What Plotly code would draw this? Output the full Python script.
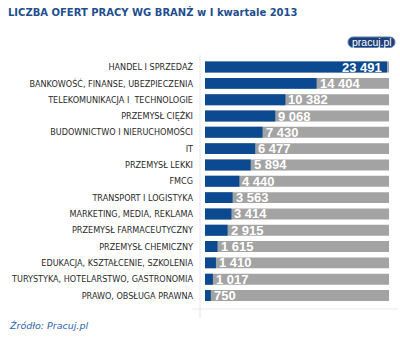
import plotly.graph_objects as go

categories = [
    "HANDEL I SPRZEDAŻ",
    "BANKOWOŚĆ, FINANSE, UBEZPIECZENIA",
    "TELEKOMUNIKACJA I  TECHNOLOGIE",
    "PRZEMYSŁ CIĘŻKI",
    "BUDOWNICTWO I NIERUCHOMOŚCI",
    "IT",
    "PRZEMYSŁ LEKKI",
    "FMCG",
    "TRANSPORT I LOGISTYKA",
    "MARKETING, MEDIA, REKLAMA",
    "PRZEMYSŁ FARMACEUTYCZNY",
    "PRZEMYSŁ CHEMICZNY",
    "EDUKACJA, KSZTAŁCENIE, SZKOLENIA",
    "TURYSTYKA, HOTELARSTWO, GASTRONOMIA",
    "PRAWO, OBSŁUGA PRAWNA",
]
values = [23491, 14404, 10382, 9068, 7430, 6477, 5894, 4440, 3563, 3414, 2915, 1615, 1410, 1017, 750]
value_labels = ["23 491", "14 404", "10 382", "9 068", "7 430", "6 477", "5 894", "4 440",
                "3 563", "3 414", "2 915", "1 615", "1 410", "1 017", "750"]
title_text = "LICZBA OFERT PRACY WG BRANŻ w I kwartale 2013"
source_text = "Źródło: Pracuj.pl"
logo_text = "pracuj.pl"

W, H = 400, 342
BLUE = "#0b4a90"
GRAY = "#a3a3a3"

vmax = max(values)
full = vmax * 184 / 182  # background track slightly longer than max bar

def px(x):
    return x / W

def py(y):
    return 1 - y / H

fig = go.Figure()
fig.add_trace(go.Bar(
    y=categories, x=[full] * len(values), orientation="h",
    marker=dict(color=GRAY, line=dict(width=0)), hoverinfo="skip", showlegend=False,
))
fig.add_trace(go.Bar(
    y=categories, x=values, orientation="h",
    marker=dict(color=BLUE, line=dict(width=0)), showlegend=False,
))

# value labels
for i, (c, v, lab) in enumerate(zip(categories, values, value_labels)):
    if i == 0:
        fig.add_annotation(x=v, y=c, xref="x", yref="y", text=lab, showarrow=False,
                           xanchor="right", xshift=-3, yshift=0,
                           font=dict(family="Liberation Sans", size=13, color="white", weight="bold"))
    else:
        fig.add_annotation(x=v, y=c, xref="x", yref="y", text=lab, showarrow=False,
                           xanchor="left", xshift=1,
                           font=dict(family="Liberation Sans", size=13, color="white", weight="bold"))

top, bottom = 57.55, 305.05
fig.update_layout(
    width=W, height=H, margin=dict(l=0, r=0, t=0, b=0, autoexpand=False),
    paper_bgcolor="white", plot_bgcolor="white",
    barmode="overlay", bargap=0.33,
    xaxis=dict(domain=[px(205), px(389)], range=[0, full], visible=False, fixedrange=True,
               automargin=False),
    yaxis=dict(domain=[py(bottom), py(top)], categoryorder="array", categoryarray=categories,
               autorange="reversed", showgrid=False, zeroline=False, showline=False,
               ticks="", ticklabelstandoff=11, automargin=False,
               tickfont=dict(family="DejaVu Sans Condensed", size=9, color="#2a2a2a")),
)

# light axis lines
fig.add_shape(type="line", xref="paper", yref="paper", x0=px(200), x1=px(200), y0=py(55), y1=py(318),
              line=dict(color="#e2e6ec", width=1))
fig.add_shape(type="line", xref="paper", yref="paper", x0=px(192), x1=px(398), y0=py(309), y1=py(309),
              line=dict(color="#e6e9ee", width=1))

# title
fig.add_annotation(x=px(6), y=py(11), xref="paper", yref="paper", text=title_text, showarrow=False,
                   xanchor="left", yanchor="middle",
                   font=dict(family="DejaVu Sans", size=10, color="#1f4f8f", weight="bold"))
# source
fig.add_annotation(x=px(7), y=py(325), xref="paper", yref="paper", text=source_text, showarrow=False,
                   xanchor="left", yanchor="middle",
                   font=dict(family="DejaVu Sans", size=9.5, color="#2f64ad", style="italic"))

# logo pill
x0, x1, y0, y1 = 348, 395, 37, 47.5
r = (y1 - y0) / 2
path = (f"M {px(x0 + r)},{py(y0)} L {px(x1 - r)},{py(y0)} "
        f"C {px(x1 + r*0.33)},{py(y0)} {px(x1 + r*0.33)},{py(y1)} {px(x1 - r)},{py(y1)} "
        f"L {px(x0 + r)},{py(y1)} "
        f"C {px(x0 - r*0.33)},{py(y1)} {px(x0 - r*0.33)},{py(y0)} {px(x0 + r)},{py(y0)} Z")
fig.add_shape(type="path", xref="paper", yref="paper", path=path,
              fillcolor="#1c3f78", line=dict(color="#5a7fb5", width=1))
fig.add_annotation(x=px((x0 + x1) / 2), y=py((y0 + y1) / 2), xref="paper", yref="paper",
                   text=logo_text, showarrow=False, xanchor="center", yanchor="middle",
                   font=dict(family="Liberation Sans", size=10.5, color="white"))

fig.write_html("out.html")
